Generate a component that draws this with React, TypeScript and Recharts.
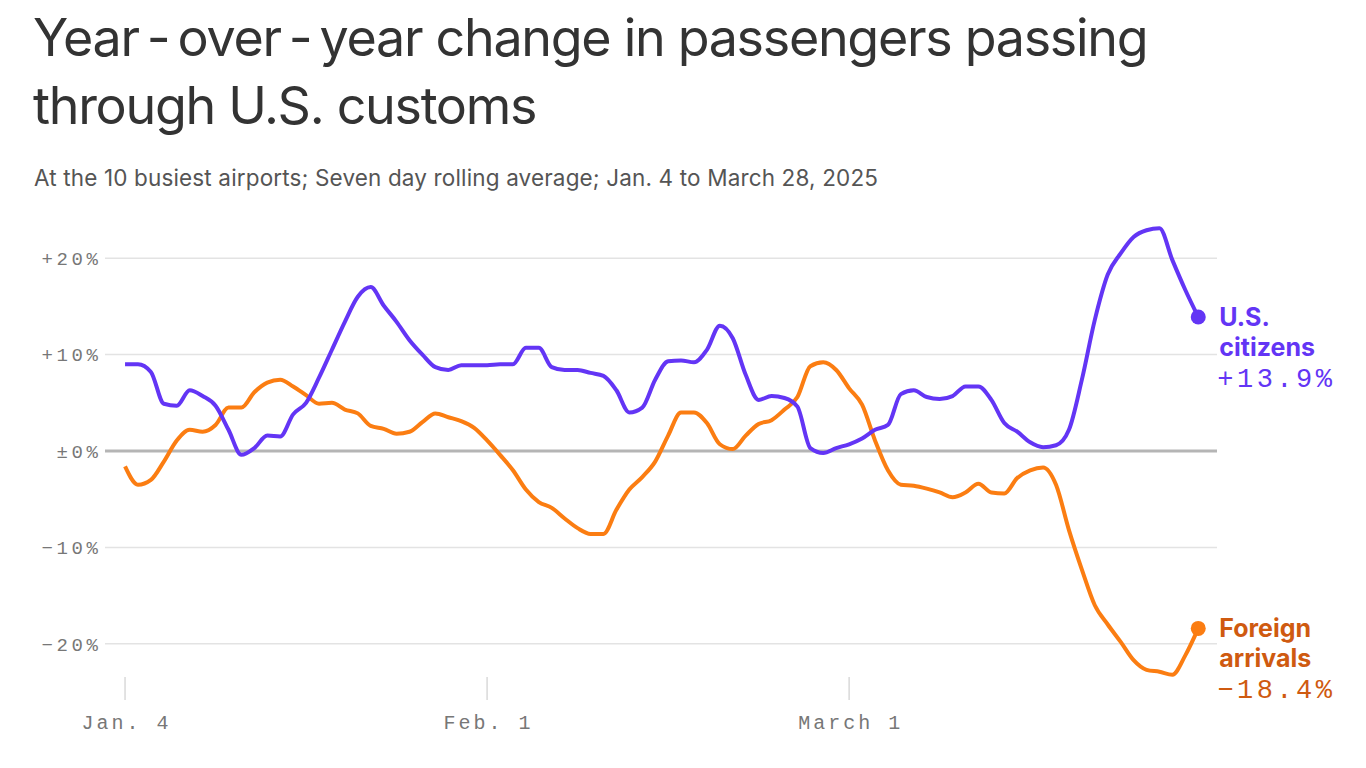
import { LineChart, Line, XAxis, YAxis, CartesianGrid, ReferenceLine } from "recharts";

// daily values, Jan. 4 (index 0) to March 28 (index 83), seven day rolling average, %
const usCitizens = [
  9.0, 9.0, 8.2, 4.9, 4.7, 6.3, 5.7, 4.7, 2.2, -0.4,
  0.3, 1.6, 1.5, 3.8, 5.0, 7.6, 10.5, 13.4, 16.0, 17.0,
  15.1, 13.4, 11.5, 10.0, 8.7, 8.4, 8.9, 8.9, 8.9, 9.0,
  9.0, 10.7, 10.7, 8.7, 8.4, 8.4, 8.1, 7.8, 6.3, 4.0,
  4.5, 7.4, 9.3, 9.4, 9.2, 10.5, 13.0, 11.7, 7.9, 5.3,
  5.7, 5.5, 4.6, 0.3, -0.2, 0.3, 0.7, 1.3, 2.2, 2.7,
  5.9, 6.3, 5.6, 5.4, 5.7, 6.7, 6.7, 5.3, 2.9, 2.0,
  0.9, 0.4, 0.6, 2.2, 7.4, 13.6, 18.3, 20.5, 22.2, 22.9,
  23.1, 19.8, 16.7, 13.9,
];

const foreignArrivals = [
  -1.6, -3.5, -3.0, -1.1, 1.1, 2.2, 2.0, 2.7, 4.5, 4.5,
  6.1, 7.1, 7.4, 6.7, 5.8, 4.9, 5.0, 4.3, 3.9, 2.6,
  2.3, 1.8, 2.0, 3.0, 3.9, 3.5, 3.1, 2.4, 1.1, -0.4,
  -2.0, -4.0, -5.3, -5.9, -7.0, -8.0, -8.6, -8.6, -6.1, -4.0,
  -2.7, -1.1, 1.6, 4.0, 4.0, 2.9, 0.7, 0.2, 1.6, 2.8,
  3.2, 4.3, 5.6, 8.8, 9.2, 8.4, 6.5, 4.8, 1.1, -2.0,
  -3.5, -3.6, -3.9, -4.3, -4.8, -4.3, -3.4, -4.3, -4.4, -2.8,
  -2.0, -1.7, -3.5, -8.2, -12.3, -16.0, -18.0, -19.8, -21.7, -22.7,
  -22.9, -23.2, -21.2, -18.4,
];

const xTicks = [0, 28, 56];
const xTickLabels = ["Jan. 4", "Feb. 1", "March 1"];
const yTicks = [-20, -10, 0, 10, 20];
const usLabel = ["U.S.", "citizens"];
const foreignLabel = ["Foreign", "arrivals"];

const title = ["Year\u2009-\u2009over\u2009-\u2009year change in passengers passing", "through U.S. customs"];
const subtitle = "At the 10 busiest airports; Seven day rolling average; Jan. 4 to March 28, 2025";

const PURPLE = "#6335f5";
const ORANGE = "#fb7d12";
const ORANGE_TEXT = "#cf5a10";
const MONO = "'Liberation Mono', 'DejaVu Sans Mono', monospace";
const SANS = "Inter, 'Noto Sans', sans-serif";

const data = usCitizens.map((v, i) => ({ day: i, us: v, foreign: foreignArrivals[i] }));

function fmt(v: number, digits = 0) {
  if (v === 0) return "±0%";
  const s = Math.abs(v).toFixed(digits) + "%";
  return v > 0 ? "+" + s : "\u2212" + s;
}

function endDot(lines: string[], color: string, textColor: string) {
  const last = data.length - 1;
  return (props: any) => {
    const { cx, cy, index, value } = props;
    if (index !== last) return <g key={index} />;
    const tx = cx + 21;
    return (
      <g key={index}>
        <circle cx={cx} cy={cy} r={7.5} fill={color} />
        {lines.map((t, k) => (
          <text key={t} x={tx} y={cy + 9 + k * 30} fill={textColor} fontFamily={SANS} fontWeight={700} fontSize={25}>
            {t}
          </text>
        ))}
        <text x={tx - 2} y={cy + 70} fill={textColor} fontFamily={MONO} fontSize={27} letterSpacing={3.5}>
          {fmt(Array.isArray(value) ? value[1] : value, 1)}
        </text>
      </g>
    );
  };
}

function XTick(props: any) {
  const { x, y, payload } = props;
  const label = xTickLabels[xTicks.indexOf(payload.value)];
  return (
    <g>
      <line x1={x} x2={x} y1={y - 15} y2={y + 8} stroke="#d9d9d9" strokeWidth={1.5} />
      <text x={x + 1.5} y={y + 37} textAnchor="middle" fill="#777" fontFamily={MONO} fontSize={20} letterSpacing={3}>
        {label}
      </text>
    </g>
  );
}

function YTick(props: any) {
  const { x, y, payload } = props;
  return (
    <text x={x + 3.6} y={y} dy="0.36em" textAnchor="end" fill="#777" fontFamily={MONO} fontSize={19} letterSpacing={3.6}>
      {fmt(payload.value)}
    </text>
  );
}

export default function App() {
  return (
    <div style={{ position: "absolute", left: 0, top: 0, width: 1366, height: 768, background: "#fff" }}>
      <svg width={1366} height={200} style={{ position: "absolute", left: 0, top: 0 }}>
        <text x={33} y={56} fill="#333" fontFamily={SANS} fontSize={52} letterSpacing={-1.3}>{title[0]}</text>
        <text x={33} y={124} fill="#333" fontFamily={SANS} fontSize={52} letterSpacing={-1.3}>{title[1]}</text>
        <text x={34} y={186} fill="#555" fontFamily={SANS} fontSize={22.5} letterSpacing={0.15}>{subtitle}</text>
      </svg>
      <div style={{ position: "absolute", left: 0, top: 0 }}>
        <LineChart width={1366} height={768} data={data} margin={{ top: 210, right: 149, bottom: 16, left: 0 }}>
          <CartesianGrid vertical={false} horizontalValues={yTicks} stroke="#e3e3e3" strokeWidth={1.5} />
          <XAxis
            type="number"
            dataKey="day"
            domain={[-1.55, 84.45]}
            ticks={xTicks}
            interval={0}
            height={60}
            axisLine={false}
            tickLine={false}
            tickSize={0}
            tickMargin={0}
            tick={<XTick />}
          />
          <YAxis
            domain={[-25, 25]}
            ticks={yTicks}
            interval={0}
            width={105}
            axisLine={false}
            tickLine={false}
            tickSize={0}
            tickMargin={7}
            tick={<YTick />}
          />
          <ReferenceLine y={0} stroke="#b5b5b5" strokeWidth={3} />
          <Line
            type="monotone"
            dataKey="foreign"
            stroke={ORANGE}
            strokeWidth={4}
            dot={endDot(foreignLabel, ORANGE, ORANGE_TEXT)}
            activeDot={false}
            isAnimationActive={false}
          />
          <Line
            type="monotone"
            dataKey="us"
            stroke={PURPLE}
            strokeWidth={4}
            dot={endDot(usLabel, PURPLE, PURPLE)}
            activeDot={false}
            isAnimationActive={false}
          />
        </LineChart>
      </div>
    </div>
  );
}
